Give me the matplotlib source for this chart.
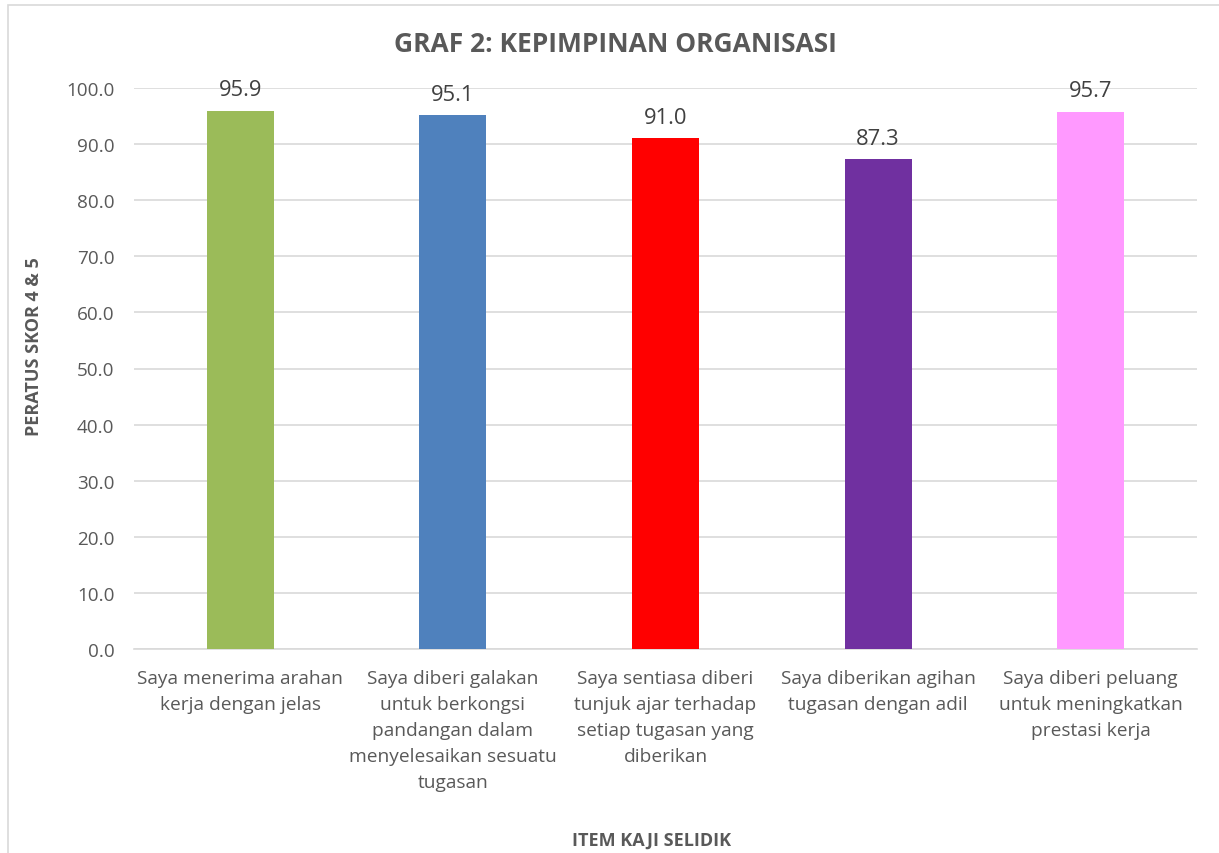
import matplotlib.pyplot as plt
from matplotlib.patches import Rectangle

# Data
categories = [
    "Saya menerima arahan\nkerja dengan jelas",
    "Saya diberi galakan\nuntuk berkongsi\npandangan dalam\nmenyelesaikan sesuatu\ntugasan",
    "Saya sentiasa diberi\ntunjuk ajar terhadap\nsetiap tugasan yang\ndiberikan",
    "Saya diberikan agihan\ntugasan dengan adil",
    "Saya diberi peluang\nuntuk meningkatkan\nprestasi kerja",
]
values = [95.9, 95.1, 91.0, 87.3, 95.7]
bar_colors = ["#9BBB59", "#4F81BD", "#FF0000", "#7030A0", "#FF99FF"]
yticks = [0, 10, 20, 30, 40, 50, 60, 70, 80, 90, 100]

plt.rcParams["font.family"] = ["Open Sans", "DejaVu Sans"]
gray = "#595959"

W, H = 1219, 854
fig = plt.figure(figsize=(W / 100, H / 100), dpi=100)
ax = fig.add_axes([134 / W, 1 - 650 / H, (1197 - 134) / W, (650 - 89) / H])

# chart border
fig.patches.append(Rectangle((8 / W, -0.1), 1.2, 1 - 6 / H + 0.1, transform=fig.transFigure,
                             fill=False, edgecolor="#D9D9D9", linewidth=1.2))

x = range(len(values))
bars = ax.bar(x, values, width=0.315, color=bar_colors, zorder=3)
for xi, v in zip(x, values):
    ax.text(xi, v + 1.9, f"{v:.1f}", ha="center", va="bottom", fontsize=15.8, color="#404040")

ax.set_xlim(-0.5, len(values) - 0.5)
ax.set_ylim(0, 100)
ax.set_yticks(yticks)
ax.set_yticklabels([f"{t:.1f}" for t in yticks], fontsize=13.6, color=gray)
ax.set_xticks(list(x))
ax.set_xticklabels(categories, fontsize=13.8, color=gray, linespacing=1.57)
ax.tick_params(axis="y", length=0, pad=14)
ax.tick_params(axis="x", length=0, pad=14.5)
ax.grid(axis="y", color="#D9D9D9", linewidth=1.2, zorder=0)
for s in ["top", "right", "left"]:
    ax.spines[s].set_visible(False)
ax.spines["bottom"].set_color("#D9D9D9")
ax.spines["bottom"].set_linewidth(1.2)

fig.text(615 / W, 1 - 45 / H, "GRAF 2: KEPIMPINAN ORGANISASI", ha="center", va="center",
         fontsize=19, fontweight="bold", color=gray)
fig.text(652 / W, 1 - 841 / H, "ITEM KAJI SELIDIK", ha="center", va="center",
         fontsize=13, fontweight="bold", color=gray)
fig.text(34 / W, 1 - 347 / H, "PERATUS SKOR 4 & 5", ha="center", va="center", rotation=90,
         fontsize=13, fontweight="bold", color=gray)

fig.savefig("out.png", dpi=100)
